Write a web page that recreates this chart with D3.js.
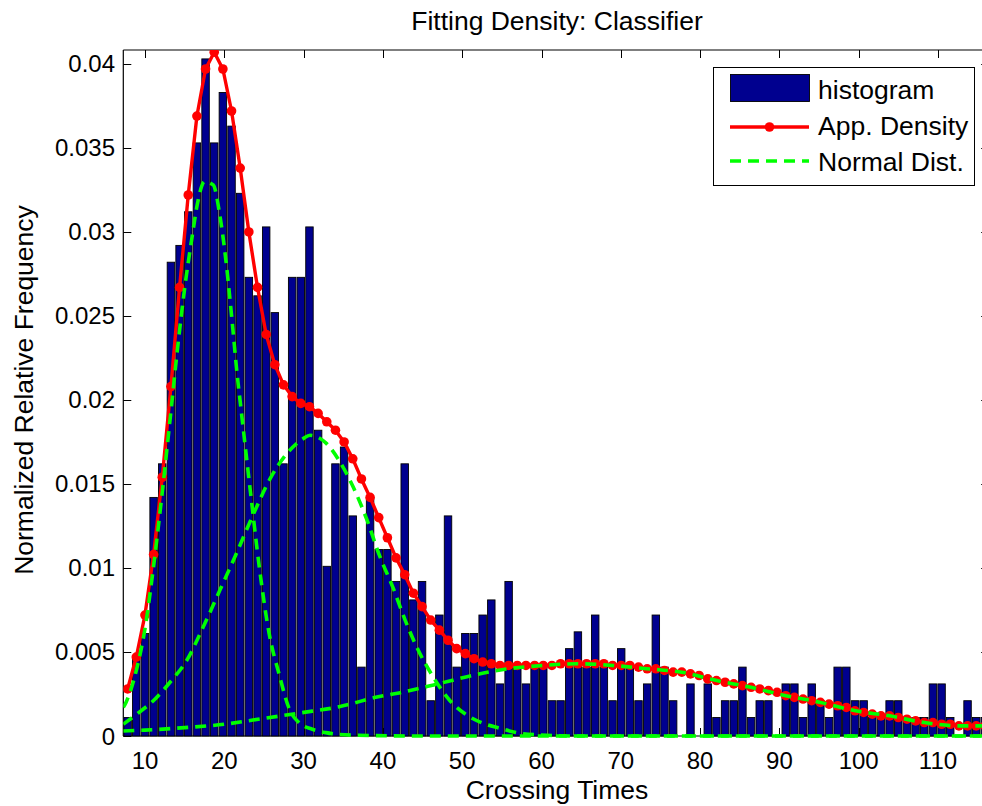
<!DOCTYPE html>
<html>
<head>
<meta charset="utf-8">
<script src="https://cdn.jsdelivr.net/npm/d3@7"></script>
<style>
  body { margin: 0; background: #fff; }
  text { font-family: "Liberation Sans", Arial, sans-serif; fill: #000; }
</style>
</head>
<body>
<div id="chart_div"></div>
<script>
// histogram: 100 equal bins starting at binStart
var binStart = 7.26,
    binWidth = 1.092;

var histValues = [
  0.0011, 0.0046, 0.0061, 0.0142, 0.0162, 0.0282, 0.0292, 0.0312, 0.0353, 0.0403,
  0.0353, 0.0383, 0.0363, 0.0323, 0.0273, 0.0262, 0.0303, 0.0252, 0.0162, 0.0273,
  0.0273, 0.0303, 0.0182, 0.0101, 0.0162, 0.0172, 0.0131, 0.0041, 0.0142, 0.0111,
  0.0111, 0.0092, 0.0162, 0.0081, 0.0092, 0.0021, 0.0072, 0.0131, 0.0041, 0.0061,
  0.0061, 0.0072, 0.0081, 0.0031, 0.0092, 0.0041, 0.0031, 0.0041, 0.0041, 0.0021,
  0.0021, 0.0052, 0.0062, 0.0041, 0.0072, 0.0041, 0.0021, 0.0052, 0.0041, 0.0021,
  0.0031, 0.0072, 0.0041, 0.0021, 0,      0.0031, 0,      0.0031, 0.0011, 0.0021,
  0.0021, 0.0041, 0.0011, 0.0021, 0.0021, 0,      0.0031, 0.0031, 0.0011, 0.0031,
  0.0021, 0.0011, 0.0041, 0.0041, 0.0021, 0.0021, 0.0011, 0.0011, 0.0021, 0.0021,
  0.0011, 0.0011, 0.0011, 0.0031, 0.0031, 0.0011, 0,      0.0021, 0.0011, 0.0011
];

// approximated density, one value per bin centre
var densityValues = [
  0.0028, 0.0047, 0.0072, 0.0108, 0.0154, 0.0208, 0.0267, 0.0322, 0.0369, 0.0397,
  0.0407, 0.0397, 0.0372, 0.0338, 0.0300, 0.0267, 0.0239, 0.0221, 0.0209, 0.0202,
  0.0198, 0.0196, 0.0192, 0.0187, 0.0182, 0.0175, 0.0165, 0.0153, 0.0142, 0.0130,
  0.0118, 0.0106, 0.0096, 0.0085, 0.0077, 0.0069, 0.0063, 0.0057, 0.0052, 0.0049,
  0.0046, 0.0044, 0.0043, 0.0042, 0.0042, 0.0042, 0.0042, 0.0042, 0.0042, 0.0042,
  0.0043, 0.0043, 0.0043, 0.0043, 0.0043, 0.0043, 0.0042, 0.0042, 0.0042, 0.0041,
  0.0040, 0.0040, 0.0039, 0.0038, 0.0038, 0.0037, 0.0036, 0.0034, 0.0033, 0.0032,
  0.0031, 0.0030, 0.0029, 0.0028, 0.0027, 0.0026, 0.0024, 0.0023, 0.0022, 0.0021,
  0.0020, 0.0019, 0.0018, 0.0017, 0.0015, 0.0014, 0.0013, 0.0012, 0.0012, 0.0011,
  0.0010, 0.0009, 0.0008, 0.0008, 0.0007, 0.0007, 0.0006, 0.0006, 0.0006, 0.0006
];

// the three normal components
var normal1X = [7.26, 7.6, 8.95, 10.0, 11.05, 12.1, 13.15, 14.2, 15.04, 15.9, 16.7, 17.5, 18.6, 19.4, 20.2, 21.0, 21.6, 22.05, 23.35, 24.4, 25.65, 26.9, 28.2, 29.4, 31.1, 32.8, 36, 45, 116.5];
var normal1Y = [0.0017, 0.0020, 0.0040, 0.0064, 0.0100, 0.0142, 0.0188, 0.0235, 0.0268, 0.0296, 0.0319, 0.0330, 0.0328, 0.0311, 0.0283, 0.0246, 0.0216, 0.0197, 0.0143, 0.0101, 0.0061, 0.0037, 0.0016, 0.0008, 0.0004, 0.0002, 0.00005, 0, 0];

var normal2X = [7.26, 8.95, 11.05, 13.15, 15.26, 17.35, 19.46, 21.56, 23.66, 25.76, 27.87, 29.96, 30.8, 32.9, 34.6, 36.27, 37.96, 39.6, 41.3, 42.8, 44.26, 46.36, 48.46, 50.57, 52.67, 54.77, 56.87, 59.8, 65, 116.5];
var normal2Y = [0.0007, 0.0013, 0.0021, 0.0032, 0.0045, 0.0065, 0.0087, 0.0109, 0.0132, 0.0153, 0.0168, 0.0177, 0.0179, 0.0174, 0.0163, 0.0148, 0.0129, 0.0107, 0.0088, 0.0069, 0.0053, 0.0035, 0.0021, 0.00125, 0.00075, 0.00046, 0.0002, 0.00006, 0, 0];

var normal3X = [7.26, 10, 15, 20, 23.6, 29.5, 34.6, 39.1, 42.2, 46.4, 50.6, 54.8, 60.2, 64.6, 69.0, 73.3, 77.7, 82.1, 86.4, 90.8, 95.2, 99.6, 103.9, 108.3, 112.7, 116.5];
var normal3Y = [0.0003, 0.00035, 0.0005, 0.0007, 0.00095, 0.00137, 0.00175, 0.0023, 0.00258, 0.00304, 0.00353, 0.00393, 0.0042, 0.0043, 0.0042, 0.0040, 0.0038, 0.0033, 0.0029, 0.0024, 0.0020, 0.0015, 0.0012, 0.0008, 0.0006, 0.0006];

var xTicks = [10, 20, 30, 40, 50, 60, 70, 80, 90, 100, 110];
var yTicks = [0, 0.005, 0.01, 0.015, 0.02, 0.025, 0.03, 0.035, 0.04];
var yTickLabels = ["0", "0.005", "0.01", "0.015", "0.02", "0.025", "0.03", "0.035", "0.04"];
var legendLabels = ["histogram", "App. Density", "Normal Dist."];

var W = 982, H = 806;
var plot = {left: 123.3, right: 989.2, top: 50, bottom: 736};
var barColor = "#00008f", lineRed = "#ff0000", dashGreen = "#00ff00";

var x = d3.scaleLinear()
    .domain([binStart, binStart + histValues.length * binWidth])
    .range([plot.left, plot.right]);
var y = d3.scaleLinear()
    .domain([0, 0.04083])
    .range([plot.bottom, plot.top]);

var svg = d3.select("#chart_div").append("svg")
    .attr("width", W)
    .attr("height", H)
    .style("display", "block");

svg.append("rect").attr("width", W).attr("height", H).attr("fill", "#fff");

// a little slack at the bottom so the dashes on y=0 show fully
svg.append("clipPath").attr("id", "clip")
  .append("rect")
    .attr("x", plot.left).attr("y", plot.top)
    .attr("width", plot.right - plot.left)
    .attr("height", plot.bottom - plot.top + 3);

// axes box and ticks sit under the data (MATLAB layer 'bottom')
var tickLen = 8;
var ticks = svg.append("g").attr("stroke", "#000").attr("stroke-width", 1);
xTicks.forEach(function(t) {
  var px = Math.round(x(t)) + 0.5;
  ticks.append("line").attr("x1", px).attr("x2", px).attr("y1", plot.bottom).attr("y2", plot.bottom - tickLen);
  ticks.append("line").attr("x1", px).attr("x2", px).attr("y1", plot.top).attr("y2", plot.top + tickLen);
});
yTicks.forEach(function(t) {
  var py = Math.round(y(t)) + 0.5;
  ticks.append("line").attr("x1", plot.left).attr("x2", plot.left + tickLen).attr("y1", py).attr("y2", py);
  ticks.append("line").attr("x1", plot.right).attr("x2", plot.right - tickLen).attr("y1", py).attr("y2", py);
});

var box = svg.append("g").attr("stroke", "#000").attr("stroke-width", 1.2).attr("fill", "none");
box.append("line").attr("x1", plot.left).attr("x2", plot.left).attr("y1", plot.top).attr("y2", plot.bottom);
box.append("line").attr("x1", plot.left).attr("x2", plot.right).attr("y1", plot.top).attr("y2", plot.top);
box.append("line").attr("x1", plot.left).attr("x2", plot.right).attr("y1", plot.bottom).attr("y2", plot.bottom);
box.append("line").attr("x1", plot.right).attr("x2", plot.right).attr("y1", plot.top).attr("y2", plot.bottom);

var data = svg.append("g").attr("clip-path", "url(#clip)");

// histogram bars
data.selectAll("rect.bar")
    .data(histValues.map(function(v, i) { return {i: i, v: v}; }).filter(function(d) { return d.v > 0; }))
  .enter().append("rect")
    .attr("class", "bar")
    .attr("x", function(d) { return x(binStart + d.i * binWidth) + 0.6; })
    .attr("width", function(d) { return x(binStart + (d.i + 1) * binWidth) - x(binStart + d.i * binWidth) - 1.2; })
    .attr("y", function(d) { return y(d.v); })
    .attr("height", function(d) { return y(0) - y(d.v); })
    .attr("fill", barColor)
    .attr("stroke", "#000")
    .attr("stroke-width", 0.9);

// approximated density with markers at bin centres
var centres = densityValues.map(function(v, i) { return [binStart + (i + 0.5) * binWidth, v]; });
var line = d3.line()
    .x(function(d) { return x(d[0]); })
    .y(function(d) { return y(d[1]); });

data.append("path")
    .datum(centres)
    .attr("d", line)
    .attr("fill", "none")
    .attr("stroke", lineRed)
    .attr("stroke-width", 3.4)
    .attr("stroke-linejoin", "round");

data.selectAll("circle.dot")
    .data(centres)
  .enter().append("circle")
    .attr("class", "dot")
    .attr("cx", function(d) { return x(d[0]); })
    .attr("cy", function(d) { return y(d[1]); })
    .attr("r", 4.8)
    .attr("fill", lineRed);

// normal components, dashed
var curve = d3.line()
    .curve(d3.curveMonotoneX)
    .x(function(d) { return x(d[0]); })
    .y(function(d) { return y(d[1]); });

[[normal1X, normal1Y], [normal2X, normal2Y], [normal3X, normal3Y]].forEach(function(c) {
  data.append("path")
      .datum(c[0].map(function(v, i) { return [v, c[1][i]]; }))
      .attr("d", curve)
      .attr("fill", "none")
      .attr("stroke", dashGreen)
      .attr("stroke-width", 3.6)
      .attr("stroke-dasharray", "11,7");
});

// tick labels
svg.append("g").selectAll("text")
    .data(xTicks)
  .enter().append("text")
    .attr("x", function(d) { return x(d); })
    .attr("y", 769)
    .attr("text-anchor", "middle")
    .style("font-size", "24px")
    .text(function(d) { return d; });

svg.append("g").selectAll("text")
    .data(yTicks)
  .enter().append("text")
    .attr("x", 115)
    .attr("y", function(d) { return y(d) + 8.5; })
    .attr("text-anchor", "end")
    .style("font-size", "24px")
    .text(function(d, i) { return yTickLabels[i]; });

// labels and title
svg.append("text")
    .attr("x", 557).attr("y", 30)
    .attr("text-anchor", "middle")
    .style("font-size", "26.5px")
    .text("Fitting Density: Classifier");

svg.append("text")
    .attr("x", 557).attr("y", 799)
    .attr("text-anchor", "middle")
    .style("font-size", "26.5px")
    .text("Crossing Times");

svg.append("text")
    .attr("transform", "translate(33,390) rotate(-90)")
    .attr("text-anchor", "middle")
    .style("font-size", "26.5px")
    .text("Normalized Relative Frequency");

// legend
var lg = svg.append("g");
lg.append("rect")
    .attr("x", 713.5).attr("y", 67.5)
    .attr("width", 261).attr("height", 118)
    .attr("fill", "#fff").attr("stroke", "#000").attr("stroke-width", 1);
lg.append("rect")
    .attr("x", 730.5).attr("y", 74.5).attr("width", 79).attr("height", 27)
    .attr("fill", barColor).attr("stroke", "#000").attr("stroke-width", 0.9);
lg.append("line")
    .attr("x1", 730).attr("x2", 809).attr("y1", 127).attr("y2", 127)
    .attr("stroke", lineRed).attr("stroke-width", 3.4);
lg.append("circle")
    .attr("cx", 769.5).attr("cy", 127).attr("r", 4.8).attr("fill", lineRed);
lg.append("line")
    .attr("x1", 730).attr("x2", 809).attr("y1", 161).attr("y2", 161)
    .attr("stroke", dashGreen).attr("stroke-width", 3.6).attr("stroke-dasharray", "11,7");
lg.selectAll("text.lbl")
    .data(legendLabels)
  .enter().append("text")
    .attr("class", "lbl")
    .attr("x", 818)
    .attr("y", function(d, i) { return 99 + i * 36; })
    .style("font-size", "26.5px")
    .text(function(d) { return d; });
</script>
</body>
</html>
